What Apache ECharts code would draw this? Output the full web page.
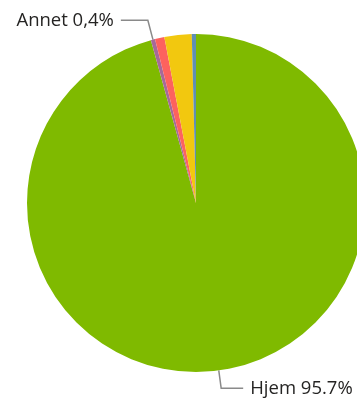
<!DOCTYPE html>
<html>
<head>
<meta charset="utf-8">
<script src="https://cdn.jsdelivr.net/npm/echarts@6/dist/echarts.min.js"></script>
<style>
html,body{margin:0;padding:0;background:#fff;}
#chart{width:357px;height:401px;}
</style>
</head>
<body>
<div id="chart"></div>
<script>
var categories = ["Hjem", "Annet", "Kategori 3", "Kategori 4", "Kategori 5"];
var values = [95.7, 0.4, 0.9, 2.6, 0.4];
var labelTexts = ["Hjem 95.7%", "Annet 0,4%", "", "", ""];
var colors = ["#7FBA00", "#A66999", "#FD625E", "#F2C80F", "#5F8FB4"];

var data = categories.map(function (c, i) {
  var show = labelTexts[i] !== "";
  return {
    name: c,
    value: values[i],
    itemStyle: { color: colors[i] },
    label: { show: show },
    labelLine: i === 0 ? { show: show, length: 18, length2: 22 }
             : i === 1 ? { show: show, length: 20, length2: 27 }
             : { show: false }
  };
});

var chart = echarts.init(document.getElementById('chart'), null, { renderer: 'canvas' });
chart.setOption({
  animation: false,
  series: [{
    type: 'pie',
    center: [196, 203],
    radius: [0, 169],
    startAngle: 90,
    clockwise: true,
    avoidLabelOverlap: false,
    itemStyle: { borderWidth: 0 },
    label: {
      formatter: function (p) { return labelTexts[p.dataIndex]; },
      fontFamily: 'Open Sans',
      fontSize: 18.5,
      color: '#252423',
      distanceToLabelLine: 7
    },
    labelLine: {
      length: 16,
      length2: 22,
      lineStyle: { color: '#8a8a8a', width: 1.5 }
    },
    data: data
  }]
});
</script>
</body>
</html>
